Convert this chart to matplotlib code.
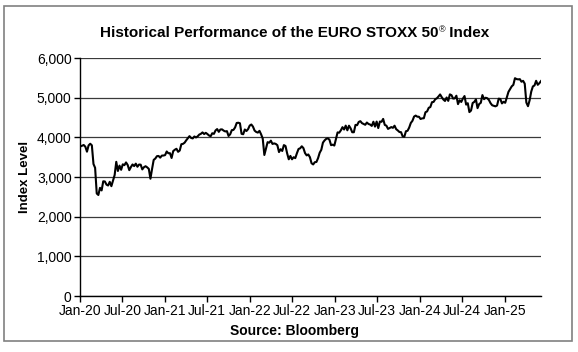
import matplotlib
matplotlib.use("Agg")
import matplotlib.pyplot as plt
import matplotlib.dates as mdates
import matplotlib.patches as patches
from matplotlib.ticker import FuncFormatter
import pandas as pd

plt.rcParams['font.family'] = ['Liberation Sans', 'DejaVu Sans']
plt.rcParams['mathtext.fontset'] = 'custom'
plt.rcParams['mathtext.rm'] = 'Liberation Sans'
plt.rcParams['mathtext.bf'] = 'Liberation Sans:bold'

# weekly closes (Fridays)
values_2020 = [3773, 3791, 3808, 3765, 3640,
               3798, 3840, 3800, 3329,
               3233, 2586, 2548, 2728,
               2663, 2893, 2888, 2809,
               2787, 2880, 2770, 2906, 3050,
               3384, 3153, 3288, 3183,
               3321, 3300, 3369, 3306, 3174,
               3253, 3318, 3276, 3338,
               3260, 3315, 3312, 3193,
               3248, 3273, 3245, 3206, 2958,
               3205, 3433, 3467, 3527,
               3532, 3489, 3541, 3543, 3553]
values_2021 = [3645, 3600, 3602, 3481,
               3655, 3689, 3713, 3636,
               3669, 3828, 3837, 3867,
               3927, 3978, 4032, 3986, 3975,
               4023, 3999, 4026, 4071,
               4090, 4126, 4084, 4115,
               4085, 4048, 4030, 4105, 4089,
               4175, 4210, 4140, 4200,
               4202, 4170, 4150, 4158,
               4036, 4079, 4183, 4189, 4250,
               4363, 4370, 4356, 4090,
               4080, 4199, 4161, 4208, 4298]
values_2022 = [4325, 4272, 4172, 4137,
               4121, 4165, 4078, 3970,
               3556, 3722, 3880, 3867,
               3918, 3835, 3849, 3836, 3803,
               3630, 3702, 3658, 3806,
               3783, 3599, 3448, 3533,
               3448, 3500, 3477, 3600, 3708,
               3725, 3776, 3730, 3604,
               3546, 3570, 3500, 3348, 3318,
               3375, 3381, 3476, 3613,
               3688, 3868, 3924, 3963,
               3977, 3942, 3804, 3817, 3794]
values_2023 = [3960, 4126, 4119, 4178,
               4258, 4199, 4297, 4179,
               4295, 4229, 4130, 4130, 4315,
               4309, 4390, 4409, 4359,
               4340, 4318, 4375, 4338,
               4324, 4290, 4395, 4272, 4399,
               4235, 4400, 4393, 4466,
               4314, 4296, 4214, 4236,
               4260, 4241, 4295, 4208, 4175,
               4136, 4131, 4025, 4015,
               4155, 4167, 4248, 4364,
               4418, 4525, 4550, 4522, 4521]
values_2024 = [4464, 4480, 4483, 4635,
               4655, 4746, 4765, 4887,
               4895, 4962, 4986, 5032, 5083,
               5014, 4955, 4918, 5006,
               4921, 5085, 5064, 4979, 4984,
               5051, 4839, 4936, 4894,
               4979, 5043, 4827, 4862,
               4638, 4677, 4867, 4895, 4958,
               4738, 4841, 4872, 5067,
               4964, 5000, 4987, 4943,
               4863, 4810, 4797, 4783, 4804,
               4977, 4968, 4857, 4898]
values_2025 = [4872, 5013, 5148, 5219, 5287,
               5325, 5493, 5470, 5463,
               5468, 5404, 5426, 5355,
               4878, 4787, 4935, 5155,
               5285, 5310, 5427, 5326, 5367,
               5420]

values = values_2020 + values_2021 + values_2022 + values_2023 + values_2024 + values_2025
dates = pd.date_range("2020-01-03", periods=len(values), freq="W-FRI")

title_main = "Historical Performance of the EURO STOXX 50"
title_mark = "®"
title_end = " Index"
y_ticks = [0, 1000, 2000, 3000, 4000, 5000, 6000]
x_ticks = pd.date_range("2020-01-01", "2025-01-01", freq="6MS")

fig = plt.figure(figsize=(5.78, 3.52), dpi=100)
ax = fig.add_axes([0.1384, 0.159, 0.7976, 0.676])

ax.plot(dates, values, color='black', lw=1.5)

ax.set_xlim(pd.Timestamp("2020-01-01"), dates[-1])
ax.set_ylim(0, 6000)
ax.set_yticks(y_ticks)
ax.yaxis.set_major_formatter(FuncFormatter(lambda v, p: f"{int(v):,}"))
ax.set_xticks(x_ticks)
ax.xaxis.set_major_formatter(mdates.DateFormatter("%b-%y"))

ax.yaxis.grid(True, color='#3a3a3a', lw=0.9)
ax.set_axisbelow(True)
for side in ['top', 'right']:
    ax.spines[side].set_visible(False)
for side in ['left', 'bottom']:
    ax.spines[side].set_color('black')
    ax.spines[side].set_linewidth(1.0)
ax.tick_params(axis='both', direction='out', length=4, width=1, color='black',
               labelsize=10, pad=2)

ax.set_ylabel("Index Level", fontsize=9.5, fontweight='bold', labelpad=4)

# title built from three pieces so the registered mark can sit small and raised
fig.canvas.draw()
renderer = fig.canvas.get_renderer()
tstyle = dict(fontsize=11, fontweight='bold', va='baseline')
t1 = fig.text(0, 0, title_main, **tstyle)
t2 = fig.text(0, 0, title_mark, fontsize=6.5, va='baseline')
t3 = fig.text(0, 0, title_end, **tstyle)
w1 = t1.get_window_extent(renderer).width
w2 = t2.get_window_extent(renderer).width
w3 = t3.get_window_extent(renderer).width
total = w1 + w2 + w3
x0 = 295 - total / 2
base = 352 - 37
t1.set_position((x0 / 578, base / 352))
t2.set_position(((x0 + w1) / 578, (base + 5) / 352))
t3.set_position(((x0 + w1 + w2) / 578, base / 352))

fig.text(0.51, 0.06, "Source: Bloomberg", ha='center', va='center',
         fontsize=10, fontweight='bold')

border = patches.Rectangle((0.0069, 0.031), 0.983, 0.952, transform=fig.transFigure,
                           fill=False, edgecolor='#808080', lw=1.2)
fig.patches.append(border)

fig.savefig("out.png", dpi=100)
